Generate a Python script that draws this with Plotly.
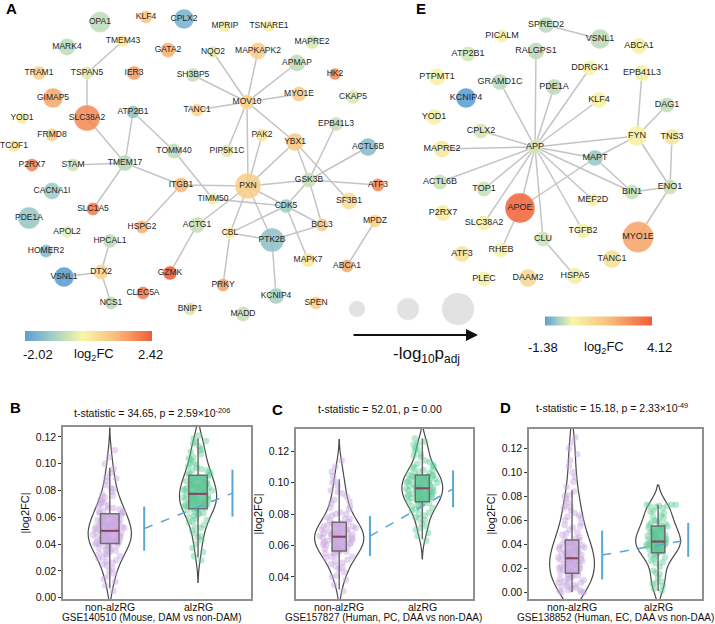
import plotly.graph_objects as go

W, H = 715, 624

# ---------------- Panel A : network ----------------
A_NAMES = ["OPA1", "KLF4", "CPLX2", "MPRIP", "TSNARE1", "MARK4", "TMEM43", "GATA2", "NQO2", "MAPKAPK2",
           "MAPRE2", "APMAP", "TRAM1", "TSPAN5", "IER3", "SH3BP5", "HK2", "GIMAP5", "MYO1E", "CKAP5",
           "SLC38A2", "MOV10", "TANC1", "YOD1", "ATP2B1", "EPB41L3", "FRMD8", "PAK2", "YBX1", "TCOF1",
           "TOMM40", "PIP5K1C", "ACTL6B", "P2RX7", "STAM", "TMEM17", "PXN", "ITGB1", "GSK3B", "TIMM50",
           "CDK5", "SF3B1", "ATF3", "CACNA1I", "SLC1A5", "PDE1A", "HSPG2", "ACTG1", "BCL3", "APOL2",
           "CBL", "PTK2B", "HPCAL1", "HOMER2", "MAPK7", "ABCA1", "MPDZ", "VSNL1", "DTX2", "GZMK",
           "PRKY", "CLEC5A", "KCNIP4", "NCS1", "SPEN", "BNIP1", "MADD"]
A_X = [100, 146, 184, 225, 269, 67, 123, 168, 213, 258,
       312, 297, 39, 87, 134, 193, 335, 53, 299, 353,
       87, 247, 197, 22, 133, 336, 52, 262, 295, 14,
       174, 227, 368, 32, 73, 125, 248, 181, 309, 213,
       286, 349, 378, 52, 93, 29, 142, 197, 322, 67,
       230, 272, 110, 46, 308, 347, 375, 64, 101, 170,
       223, 143, 276, 111, 316, 190, 243]
A_Y = [22, 17, 19, 26, 26, 47, 41, 50, 52, 51,
       42, 63, 73, 73, 73, 75, 74, 98, 94, 97,
       118, 102, 110, 118, 112, 124, 135, 135, 142, 146,
       151, 151, 147, 165, 165, 163, 186, 185, 180, 199,
       206, 201, 185, 191, 209, 218, 227, 225, 225, 232,
       233, 240, 241, 251, 260, 266, 221, 277, 272, 273,
       285, 293, 296, 303, 303, 309, 314]
A_LOG2FC = [-0.7, 1.0, -1.6, 0.2, 0.15, -0.7, 0.2, 1.3, -0.3, 0.8,
            -0.4, -0.7, 0.8, -0.3, 1.6, -0.6, 1.8, 1.4, 0.9, -0.35,
            1.8, 0.7, 0.6, 0.2, -1.3, -0.6, 0.8, 0.3, 0.9, 0.25,
            -0.7, -0.3, -1.4, 1.9, -0.5, -0.8, 0.8, 1.2, -0.6, -0.15,
            -1.1, 0.5, 1.9, -1.1, 2.0, -1.2, 1.3, -0.6, 0.9, -0.2,
            0.2, -1.3, -0.7, -1.5, 0.3, 1.4, 0.7, -2.02, 0.7, 2.42,
            1.5, 2.0, -1.0, -0.8, 0.8, -0.4, -0.6]
A_NLOGP = [13, 5, 12, 4, 4, 9, 4, 7, 4, 9,
           6, 9, 6, 5, 6, 6, 4, 12, 7, 6,
           18, 7, 5, 4, 5, 6, 5, 5, 10, 4,
           7, 5, 10, 5, 5, 8, 18, 7, 7, 4,
           6, 9, 5, 9, 5, 14, 5, 8, 5, 4,
           4, 16, 6, 5, 6, 5, 5, 12, 7, 6,
           5, 5, 8, 5, 5, 5, 7]
A_EDGES = [("TMEM43", "TSPAN5"), ("TSPAN5", "SLC38A2"), ("SLC38A2", "TMEM17"), ("ATP2B1", "TMEM17"),
           ("ATP2B1", "TOMM40"), ("TOMM40", "TIMM50"), ("STAM", "TMEM17"), ("TMEM17", "ITGB1"),
           ("TMEM17", "SLC1A5"), ("ITGB1", "HSPG2"), ("ITGB1", "PXN"), ("NQO2", "MOV10"),
           ("MAPKAPK2", "MOV10"), ("APMAP", "MOV10"), ("SH3BP5", "MOV10"), ("TANC1", "MOV10"),
           ("MYO1E", "MOV10"), ("MOV10", "PIP5K1C"), ("MOV10", "PXN"), ("MOV10", "YBX1"),
           ("PAK2", "PXN"), ("YBX1", "PXN"), ("YBX1", "GSK3B"), ("YBX1", "SF3B1"),
           ("EPB41L3", "GSK3B"), ("ACTL6B", "GSK3B"), ("PXN", "GSK3B"), ("GSK3B", "ATF3"),
           ("GSK3B", "CDK5"), ("GSK3B", "BCL3"), ("PXN", "CDK5"), ("TIMM50", "CDK5"),
           ("PXN", "ACTG1"), ("PXN", "CBL"), ("PXN", "PTK2B"), ("CDK5", "CBL"), ("CDK5", "MAPK7"),
           ("CDK5", "BCL3"), ("PTK2B", "BCL3"), ("PTK2B", "CBL"), ("PTK2B", "KCNIP4"),
           ("CBL", "PRKY"), ("ACTG1", "GZMK"), ("HPCAL1", "DTX2"), ("VSNL1", "DTX2"),
           ("DTX2", "NCS1"), ("MPDZ", "ABCA1")]
A_FC_RANGE = [-2.02, 2.42]

# ---------------- Panel E : network ----------------
E_NAMES = ["SPRED2", "PICALM", "VSNL1", "ABCA1", "ATP2B1", "RALGPS1", "PTPMT1", "GRAMD1C", "DDRGK1",
           "EPB41L3", "PDE1A", "KCNIP4", "KLF4", "DAG1", "YOD1", "CPLX2", "FYN", "TNS3", "APP",
           "MAPRE2", "MAPT", "ACTL6B", "TOP1", "BIN1", "ENO1", "MEF2D", "APOE", "P2RX7", "SLC38A2",
           "TGFB2", "MYO1E", "CLU", "ATF3", "RHEB", "TANC1", "PLEC", "DAAM2", "HSPA5"]
E_X = [546, 502, 600, 639, 468, 536, 437, 500, 590,
       642, 554, 466, 599, 667, 434, 481, 637, 672, 535,
       442, 595, 440, 484, 632, 670, 593, 520, 443, 484,
       583, 638, 543, 462, 501, 612, 484, 528, 575]
E_Y = [25, 36, 39, 46, 54, 51, 77, 82, 68,
       73, 87, 98, 100, 105, 117, 131, 136, 137, 147,
       149, 158, 182, 189, 192, 187, 200, 208, 213, 223,
       231, 237, 239, 254, 250, 259, 279, 278, 276]
E_LOG2FC = [-0.5, 0.1, -0.5, 0.2, -0.3, -0.5, 0.25, -0.5, 0.15,
            0.2, -0.5, -1.38, 0.1, -0.45, 0.15, -0.3, 0.1, 0.5, -0.3,
            0.5, -0.8, -0.4, -0.4, -0.4, -0.4, 0.2, 3.9, 0.3, 0.2,
            0.15, 2.5, -0.35, 0.7, 0.1, 0.8, 0.2, 1.0, 0.3]
E_NLOGP = [8, 5, 12, 8, 7, 9, 9, 8, 7,
           8, 8, 12, 8, 7, 8, 7, 12, 8, 6,
           9, 8, 7, 7, 7, 7, 5, 22, 8, 7,
           7, 23, 7, 8, 7, 10, 7, 10, 8]
E_EDGES = [("SPRED2", "VSNL1"), ("APP", "RALGPS1"), ("APP", "GRAMD1C"), ("APP", "PDE1A"),
           ("APP", "DDRGK1"), ("APP", "KLF4"), ("APP", "CPLX2"), ("APP", "MAPRE2"), ("APP", "FYN"),
           ("APP", "MAPT"), ("APP", "ACTL6B"), ("APP", "TOP1"), ("APP", "SLC38A2"), ("APP", "APOE"),
           ("APP", "CLU"), ("APP", "MEF2D"), ("APP", "TGFB2"), ("APP", "BIN1"), ("MAPT", "APOE"),
           ("APOE", "RHEB"), ("CLU", "HSPA5"), ("FYN", "EPB41L3"), ("FYN", "DAG1"), ("FYN", "MAPT"),
           ("FYN", "ENO1"), ("TNS3", "ENO1"), ("ENO1", "BIN1"), ("ENO1", "MYO1E"), ("MAPT", "BIN1")]
E_FC_RANGE = [-1.38, 4.12]

SIZE_LEGEND_NLOGP = [9, 15, 25]

# ---------------- Panels B, C, D : violins (|log2FC| x1000) ----------------
B_NON = [5, 9, 12, 14, 16, 18, 20, 22, 24, 25, 27, 28, 29, 30, 31, 32, 33, 34, 35, 36, 37, 38, 38, 39, 40,
         40, 41, 42, 42, 43, 44, 44, 45, 46, 46, 47, 48, 48, 49, 49, 50, 50, 51, 52, 52, 53, 54, 54, 55, 56,
         57, 57, 58, 59, 60, 61, 62, 63, 63, 64, 65, 66, 67, 68, 69, 70, 72, 73, 75, 77, 79, 81, 84, 87, 90,
         93, 96, 100, 105, 110,
         26, 33, 36, 39, 41, 43, 45, 47, 49, 51, 53, 55, 58, 61, 64, 67, 71, 76, 82, 89]
B_ALZ = [28, 31, 34, 37, 40, 43, 46, 48, 50, 52, 54, 56, 58, 59, 60, 61, 62, 63, 64, 65, 66, 66, 67, 68, 68,
         69, 70, 70, 71, 72, 72, 73, 74, 74, 75, 76, 76, 77, 77, 78, 78, 79, 80, 80, 81, 82, 82, 83, 84, 85,
         85, 86, 87, 88, 89, 90, 91, 92, 93, 94, 95, 96, 97, 98, 100, 101, 103, 105, 107, 109, 111, 113, 115,
         117, 119, 121,
         45, 53, 57, 63, 67, 69, 71, 73, 75, 79, 81, 83, 86, 89, 92, 95, 99, 104, 110, 116]
C_NON = [31, 35, 38, 41, 43, 45, 47, 48, 50, 51, 52, 53, 54, 55, 55, 56, 57, 57, 58, 59, 59, 60, 61, 61, 62,
         62, 63, 63, 64, 64, 65, 65, 66, 66, 67, 67, 68, 68, 69, 69, 70, 71, 71, 72, 73, 73, 74, 75, 76, 77,
         78, 79, 80, 81, 83, 85, 87, 89, 91, 93, 95, 98, 101, 104, 107, 110, 114,
         40, 46, 49, 53, 56, 58, 60, 62, 64, 66, 68, 70, 72, 74, 77, 80, 84, 88, 94, 100]
C_ALZ = [63, 66, 68, 70, 72, 74, 76, 77, 79, 80, 81, 82, 83, 84, 85, 86, 86, 87, 88, 88, 89, 89, 90, 90, 91,
         91, 92, 92, 93, 93, 94, 94, 95, 95, 96, 96, 97, 97, 98, 98, 99, 99, 100, 100, 101, 101, 102, 102, 103,
         103, 104, 104, 105, 105, 106, 107, 108, 109, 110, 111, 112, 114, 116, 118, 120, 122, 124, 126, 128,
         71, 78, 84, 87, 90, 92, 94, 96, 98, 100, 102, 104, 106, 108, 110, 113, 117, 121, 125]
D_NON = [0, 0, 1, 2, 3, 4, 5, 6, 7, 8, 9, 10, 11, 12, 13, 14, 15, 16, 16, 17, 18, 19, 20, 21, 22, 23, 24, 25,
         26, 27, 28, 28, 29, 30, 31, 32, 33, 34, 35, 36, 37, 38, 39, 40, 41, 42, 43, 44, 46, 48, 50, 52, 54,
         56, 58, 60, 62, 64, 66, 68, 70, 72, 75, 78, 81, 84, 88, 92, 96, 100, 105, 110, 115, 120, 125, 129,
         0, 2, 5, 8, 11, 14, 17, 20, 23, 26, 29, 32, 35, 38, 41, 45, 49, 55, 63, 71, 80]
D_ALZ = [1, 3, 5, 7, 9, 12, 15, 18, 21, 24, 26, 28, 30, 31, 32, 33, 34, 35, 36, 37, 38, 38, 39, 40, 40, 41,
         42, 42, 43, 44, 44, 45, 46, 47, 48, 49, 50, 51, 52, 53, 54, 55, 56, 57, 58, 59, 60, 62, 64, 66, 68,
         70, 71, 72, 72, 73, 73, 73,
         8, 16, 25, 29, 34, 37, 39, 41, 43, 45, 48, 51, 55, 59, 63, 67, 72]

# box stats: lowerfence, q1, median, q3, upperfence
B_BOX_NON = [0.007, 0.0405, 0.0499, 0.0627, 0.097]
B_BOX_ALZ = [0.030, 0.0664, 0.0775, 0.0913, 0.119]
C_BOX_NON = [0.032, 0.0565, 0.0656, 0.0747, 0.102]
C_BOX_ALZ = [0.064, 0.0878, 0.0963, 0.1048, 0.128]
D_BOX_NON = [0.000, 0.0158, 0.0283, 0.0436, 0.085]
D_BOX_ALZ = [0.001, 0.0330, 0.0422, 0.0553, 0.073]

# blue bars: centre and half-length for [non-alzRG, alzRG]
B_BAR_CENTER = [0.0515, 0.0780]
B_BAR_HALF = [0.0165, 0.0175]
C_BAR_CENTER = [0.0660, 0.0960]
C_BAR_HALF = [0.0127, 0.0117]
D_BAR_CENTER = [0.0310, 0.0437]
D_BAR_HALF = [0.0203, 0.0142]

CATEGORIES = ["non-alzRG", "alzRG"]
B_TITLE = "t-statistic = 34.65, p = 2.59×10<sup>-206</sup>"
C_TITLE = "t-statistic = 52.01, p = 0.00"
D_TITLE = "t-statistic = 15.18, p = 2.33×10<sup>-49</sup>"
B_XLABEL = "GSE140510 (Mouse, DAM vs non-DAM)"
C_XLABEL = "GSE157827 (Human, PC, DAA vs non-DAA)"
D_XLABEL = "GSE138852 (Human, EC, DAA vs non-DAA)"
B_YTICKS = [0.00, 0.02, 0.04, 0.06, 0.08, 0.10, 0.12]
C_YTICKS = [0.04, 0.06, 0.08, 0.10, 0.12]
D_YTICKS = [0.00, 0.02, 0.04, 0.06, 0.08, 0.10, 0.12]

# ---------------- helpers ----------------
ARIAL = "Liberation Sans, Arial, sans-serif"


def px(x):
    return x / W


def py(y):
    return 1 - y / H


def make_scale(lo, hi):
    m = -lo / (hi - lo)
    return [[0.0, "#5b9fd4"], [m * 0.5, "#a6d0c2"], [m, "#f8f6a8"],
            [m + (1 - m) * 0.45, "#f9c07e"], [1.0, "#f05d36"]]


SIZE_BASE = 8

fig = go.Figure()


def add_network(names, xs, ys, fc, nlp, edges, rng, cb, fsize):
    pos = {n: (x, y) for n, x, y in zip(names, xs, ys)}
    ex, ey = [], []
    for a, b in edges:
        ex += [pos[a][0], pos[b][0], None]
        ey += [pos[a][1], pos[b][1], None]
    fig.add_trace(go.Scatter(x=ex, y=ey, mode="lines", line=dict(color="#c4c4c4", width=1.5),
                             hoverinfo="skip", xaxis="x", yaxis="y"))
    fig.add_trace(go.Scatter(
        x=xs, y=ys, mode="markers+text", text=names, textposition="middle center",
        textfont=dict(family=ARIAL, size=fsize, color="#262626"),
        marker=dict(size=[SIZE_BASE + v for v in nlp], color=fc, colorscale=make_scale(*rng),
                    cmin=rng[0], cmax=rng[1], opacity=0.88, line=dict(width=0.6, color="rgba(255,255,255,0.6)"),
                    showscale=True, colorbar=cb),
        xaxis="x", yaxis="y", cliponaxis=False))


cb_common = dict(orientation="h", xanchor="center", yanchor="middle", lenmode="pixels",
                 thicknessmode="pixels", outlinewidth=0, showticklabels=False, ticks="", xpad=0, ypad=0)
add_network(A_NAMES, A_X, A_Y, A_LOG2FC, A_NLOGP, A_EDGES, A_FC_RANGE,
            dict(x=px(88.5), y=py(336), len=127, thickness=10, **cb_common), 8.5)
add_network(E_NAMES, E_X, E_Y, E_LOG2FC, E_NLOGP, E_EDGES, E_FC_RANGE,
            dict(x=px(598.5), y=py(321.5), len=107, thickness=9, **cb_common), 9)

# size legend
fig.add_trace(go.Scatter(x=[357, 408, 458], y=[309, 309, 309], mode="markers",
                         marker=dict(size=[SIZE_BASE + v for v in SIZE_LEGEND_NLOGP], color="#d6d6d6"),
                         hoverinfo="skip", xaxis="x", yaxis="y"))

# ---------------- violin panels ----------------
PURPLE_PT = "rgba(200,165,225,0.45)"
GREEN_PT = "rgba(80,200,140,0.40)"
PURPLE_BOX = "rgba(200,165,222,0.85)"
GREEN_BOX = "rgba(92,196,148,0.85)"
BLUE = "#5aa6d6"

panels = [
    dict(ax="2", non=B_NON, alz=B_ALZ, bn=B_BOX_NON, ba=B_BOX_ALZ, bc=B_BAR_CENTER, bh=B_BAR_HALF,
         vw=[0.49, 0.42], bw=0.21, off=0.39, xr=[-0.53, 1.6], yr=[-0.001, 0.1274], yt=B_YTICKS,
         dom_x=[px(63), px(251)], dom_y=[py(599), py(427)], title=B_TITLE, tx=152, ty=412, xl=B_XLABEL,
         xlx=152, letter="B", lx=8, ly=407),
    dict(ax="3", non=C_NON, alz=C_ALZ, bn=C_BOX_NON, ba=C_BOX_ALZ, bc=C_BAR_CENTER, bh=C_BAR_HALF,
         vw=[0.59, 0.49], bw=0.17, off=0.37, xr=[-0.52, 1.61], yr=[0.026, 0.134], yt=C_YTICKS,
         dom_x=[px(296), px(473)], dom_y=[py(599), py(429)], title=C_TITLE, tx=380, ty=409, xl=C_XLABEL,
         xlx=383, letter="C", lx=270, ly=409),
    dict(ax="4", non=D_NON, alz=D_ALZ, bn=D_BOX_NON, ba=D_BOX_ALZ, bc=D_BAR_CENTER, bh=D_BAR_HALF,
         vw=[0.52, 0.52], bw=0.155, off=0.35, xr=[-0.5, 1.51], yr=[-0.0056, 0.136], yt=D_YTICKS,
         dom_x=[px(529), px(702)], dom_y=[py(599), py(429)], title=D_TITLE, tx=612, ty=407, xl=D_XLABEL,
         xlx=615, letter="D", lx=498, ly=407),
]

annotations = []
layout_axes = {}
for p in panels:
    xa, ya = "x" + p["ax"], "y" + p["ax"]
    groups = [(0, p["non"], p["bn"], PURPLE_PT, PURPLE_BOX, p["vw"][0]),
              (1, p["alz"], p["ba"], GREEN_PT, GREEN_BOX, p["vw"][1])]
    for c, vals, bs, ptc, boxc, vw in groups:
        fig.add_trace(go.Violin(
            x0=c, y=[v / 1000 for v in vals], width=vw, points="all", pointpos=0, jitter=0.8,
            marker=dict(color=ptc, size=6.5, line=dict(width=0)), line=dict(color="#4a4a4a", width=1.2),
            fillcolor="rgba(0,0,0,0)", box_visible=False, meanline_visible=False, spanmode="soft",
            hoverinfo="skip", xaxis=xa, yaxis=ya))
    for c, vals, bs, ptc, boxc, vw in groups:
        fig.add_trace(go.Box(
            x=[c], lowerfence=[bs[0]], q1=[bs[1]], median=[bs[2]], q3=[bs[3]], upperfence=[bs[4]],
            width=p["bw"], fillcolor=boxc, line=dict(color="#6e6e6e", width=1.5), whiskerwidth=0,
            boxpoints=False, hoverinfo="skip", xaxis=xa, yaxis=ya))
        fig.add_trace(go.Scatter(
            x=[c - p["bw"] / 2, c + p["bw"] / 2], y=[bs[2], bs[2]], mode="lines",
            line=dict(color="#8a4660", width=2), hoverinfo="skip", xaxis=xa, yaxis=ya))
    bx = [0 + p["off"], 1 + p["off"]]
    fig.add_trace(go.Scatter(x=bx, y=p["bc"], mode="lines", line=dict(color=BLUE, width=1.5, dash="dash"),
                             hoverinfo="skip", xaxis=xa, yaxis=ya))
    fig.add_trace(go.Scatter(x=bx, y=p["bc"], mode="markers", marker=dict(size=0.1, color=BLUE),
                             error_y=dict(type="data", array=p["bh"], color=BLUE, thickness=2, width=0),
                             hoverinfo="skip", xaxis=xa, yaxis=ya))
    axis_common = dict(showline=True, mirror=True, linecolor="#8f8f8f", linewidth=1.5, showgrid=False,
                       zeroline=False, tickfont=dict(family=ARIAL, size=10.5, color="#111"))
    layout_axes["xaxis" + p["ax"]] = dict(
        domain=p["dom_x"], range=p["xr"], anchor=ya, tickvals=[0, 1], showticklabels=False,
        ticks="", **axis_common)
    layout_axes["yaxis" + p["ax"]] = dict(
        domain=p["dom_y"], range=p["yr"], anchor=xa, tickvals=p["yt"], tickformat=".2f",
        ticks="outside", ticklen=3, tickcolor="#333",
        title=dict(text="|log2FC|", font=dict(family=ARIAL, size=11, color="#111"), standoff=4),
        **axis_common)
    # category labels and x-axis label
    for c, cat in enumerate(CATEGORIES):
        annotations.append(dict(x=c, y=py(607), xref=xa, yref="paper", text=cat, showarrow=False,
                                font=dict(family=ARIAL, size=10.5, color="#111"),
                                xanchor="center", yanchor="middle"))
    annotations.append(dict(x=px(p["xlx"]), y=py(617.5), xref="paper", yref="paper", text=p["xl"],
                            showarrow=False, font=dict(family=ARIAL, size=10, color="#111"),
                            xanchor="center", yanchor="middle"))
    annotations.append(dict(x=px(p["tx"]), y=py(p["ty"]), xref="paper", yref="paper", text=p["title"],
                            showarrow=False, font=dict(family=ARIAL, size=10.5, color="#111"),
                            xanchor="center", yanchor="middle"))
    annotations.append(dict(x=px(p["lx"]), y=py(p["ly"]), xref="paper", yref="paper",
                            text="<b>" + p["letter"] + "</b>", showarrow=False,
                            font=dict(family=ARIAL, size=15, color="#000"), xanchor="left", yanchor="middle"))

# panel letters and legend texts for networks
for letter, lx, ly in [("A", 4, 9), ("E", 414, 9)]:
    annotations.append(dict(x=px(lx), y=py(ly), xref="paper", yref="paper", text="<b>" + letter + "</b>",
                            showarrow=False, font=dict(family=ARIAL, size=15, color="#000"),
                            xanchor="left", yanchor="middle"))
for txt, x, y in [("%.2f" % A_FC_RANGE[0], 38, 354), ("log<sub>2</sub>FC", 94, 354),
                  ("%.2f" % A_FC_RANGE[1], 150, 354), ("%.2f" % E_FC_RANGE[0], 543, 347),
                  ("log<sub>2</sub>FC", 604, 347), ("%.2f" % E_FC_RANGE[1], 659, 347)]:
    annotations.append(dict(x=px(x), y=py(y), xref="paper", yref="paper", text=txt, showarrow=False,
                            font=dict(family=ARIAL, size=13, color="#111"), xanchor="center", yanchor="middle"))
annotations.append(dict(x=478, y=335, ax=352, ay=335, xref="x", yref="y",
                        axref="x", ayref="y", text="", showarrow=True, arrowhead=2, arrowsize=1.2,
                        arrowwidth=2, arrowcolor="#111"))
annotations.append(dict(x=px(426), y=py(355), xref="paper", yref="paper",
                        text="-log<sub>10</sub>p<sub>adj</sub>", showarrow=False,
                        font=dict(family=ARIAL, size=17, color="#111"), xanchor="center", yanchor="middle"))

fig.update_layout(
    width=W, height=H, autosize=False, margin=dict(l=0, r=0, t=0, b=0, pad=0, autoexpand=False),
    paper_bgcolor="white", plot_bgcolor="white", showlegend=False,
    violinmode="overlay", boxmode="overlay",
    xaxis=dict(domain=[0, 1], range=[0, W], visible=False, fixedrange=True),
    yaxis=dict(domain=[0, 1], range=[H, 0], visible=False, fixedrange=True),
    annotations=annotations, **layout_axes)

fig.write_html("out.html", config={"displayModeBar": False},
               post_script="document.body.style.margin='0';document.body.style.padding='0';")
